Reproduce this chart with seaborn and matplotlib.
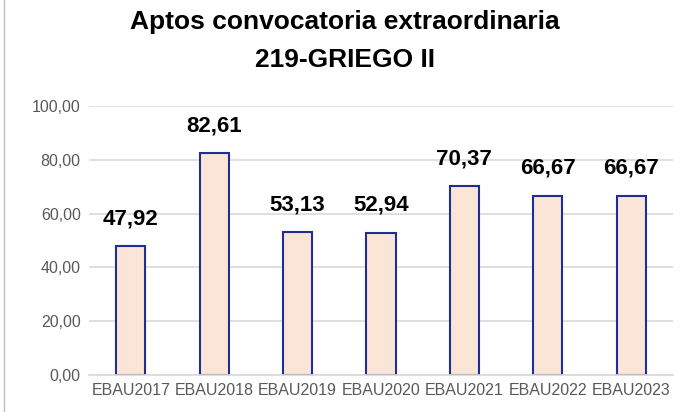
import matplotlib
matplotlib.use("Agg")
import matplotlib.pyplot as plt
import seaborn as sns
import pandas as pd
from matplotlib.patches import Rectangle

categories = ["EBAU2017", "EBAU2018", "EBAU2019", "EBAU2020", "EBAU2021", "EBAU2022", "EBAU2023"]
values = [47.92, 82.61, 53.13, 52.94, 70.37, 66.67, 66.67]
yticks = [0, 20, 40, 60, 80, 100]
title_lines = ["Aptos convocatoria extraordinaria", "219-GRIEGO II"]

df = pd.DataFrame({"cat": categories, "val": values})

sns.set_theme(style="white")
plt.rcParams["font.family"] = ["Liberation Sans", "DejaVu Sans"]

fig = plt.figure(figsize=(6.91, 4.12), dpi=100)
ax = fig.add_axes([89/691, 1-375/412, (673-89)/691, (375-106)/412])

sns.barplot(data=df, x="cat", y="val", ax=ax, color="#FBE5D6", width=0.35,
            edgecolor="#1F2D96", linewidth=1.5, saturation=1)

ax.set_ylim(0, 100)
ax.set_xlim(-0.5, len(categories)-0.5)
ax.set_yticks(yticks)
ax.set_yticklabels([f"{v:.2f}".replace(".", ",") for v in yticks], color="#595959", fontsize=11.5)
ax.set_xticks(range(len(categories)))
ax.set_xticklabels(categories, color="#595959", fontsize=11.5)
ax.tick_params(axis="both", length=0, pad=6)
ax.yaxis.grid(True, color="#D9D9D9", linewidth=1.2)
ax.set_axisbelow(True)
for s in ["top", "right", "left"]:
    ax.spines[s].set_visible(False)
ax.spines["bottom"].set_color("#D9D9D9")
ax.spines["bottom"].set_linewidth(1.2)
ax.set_xlabel("")
ax.set_ylabel("")

for i, v in enumerate(values):
    ax.annotate(f"{v:.2f}".replace(".", ","), (i, v), xytext=(0, 12), textcoords="offset points",
                ha="center", va="bottom", fontsize=16, fontweight="bold", color="black")

fig.text(345/691, 1-22/412, title_lines[0], ha="center", va="center", fontsize=19,
         fontweight="bold", color="black")
fig.text(345/691, 1-60/412, title_lines[1], ha="center", va="center", fontsize=19,
         fontweight="bold", color="black")

fig.patches.append(Rectangle((4/691, -0.01), 2, 2, transform=fig.transFigure, fill=False,
                             edgecolor="#BFBFBF", linewidth=1))

fig.savefig("out.png", dpi=100)
